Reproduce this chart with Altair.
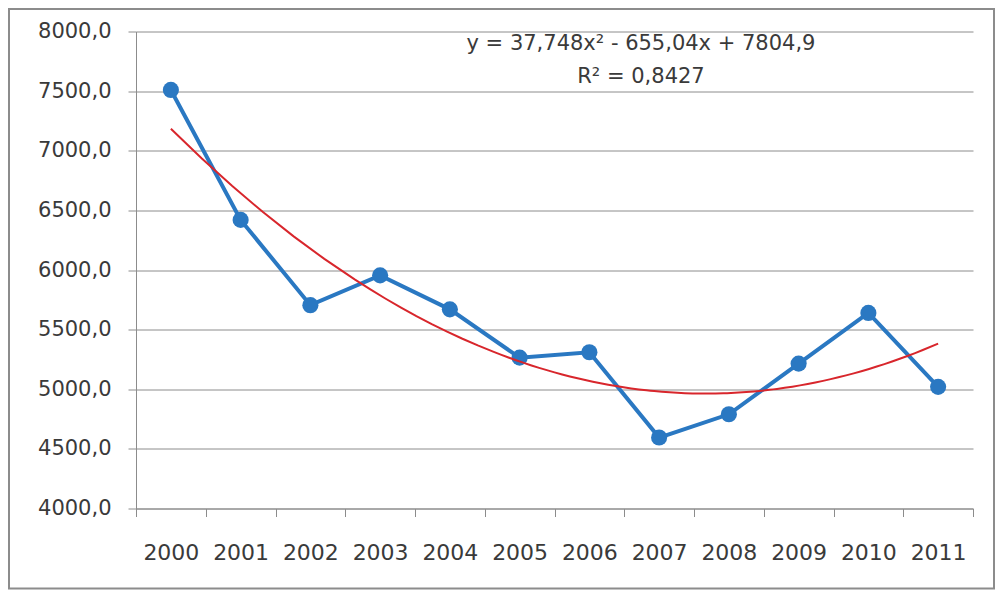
import altair as alt
import pandas as pd

# ---- data ----
years = ["2000", "2001", "2002", "2003", "2004", "2005",
         "2006", "2007", "2008", "2009", "2010", "2011"]
x_index = [1, 2, 3, 4, 5, 6, 7, 8, 9, 10, 11, 12]
values = [7510, 6420, 5705, 5955, 5670, 5265, 5310, 4595, 4790, 5215, 5640, 5020]
y_ticks = [4000, 4500, 5000, 5500, 6000, 6500, 7000, 7500, 8000]
x_ticks = [0.5, 1.5, 2.5, 3.5, 4.5, 5.5, 6.5, 7.5, 8.5, 9.5, 10.5, 11.5, 12.5]
eq_line1 = "y = 37,748x² - 655,04x + 7804,9"
eq_line2 = "R² = 0,8427"

df = pd.DataFrame({"x": x_index, "year": years, "value": values})

FONT = "DejaVu Sans"
GRAY = "#8c8c8c"
TEXT = "#3a3a3a"
BLUE = "#2a78c2"
RED = "#d8262c"

W, H = 837, 477
first_year = int(years[0])
last_x = x_index[-1]

x_axis = alt.Axis(
    values=x_ticks,
    labelExpr=f"datum.value < {last_x} ? '' + ({first_year} + round(datum.value - 0.5)) : ''",
    labelOffset=W / 12 / 2,
    grid=False,
    domainColor=GRAY,
    tickColor=GRAY,
    tickSize=8,
    labelPadding=26,
    labelFont=FONT,
    labelFontSize=22,
    labelColor=TEXT,
    labelOverlap=False,
    labelFlush=False,
    title=None,
)

y_axis = alt.Axis(
    values=y_ticks,
    labelExpr="replace(format(datum.value, '.1f'), '.', ',')",
    grid=True,
    gridColor=GRAY,
    gridWidth=1,
    domainColor=GRAY,
    tickColor=GRAY,
    tickSize=8,
    labelPadding=17,
    labelFont=FONT,
    labelFontSize=21,
    labelColor=TEXT,
    labelOverlap=False,
    labelFlush=False,
    title=None,
)

x_enc = alt.X("x:Q", scale=alt.Scale(domain=[0.5, 12.5], nice=False, zero=False), axis=x_axis)
y_enc = alt.Y("value:Q", scale=alt.Scale(domain=[4000, 8000], nice=False, zero=False), axis=y_axis)

base = alt.Chart(df)

line = base.mark_line(color=BLUE, strokeWidth=4).encode(x=x_enc, y=y_enc)
points = base.mark_circle(color=BLUE, size=260, opacity=1).encode(x="x:Q", y="value:Q")

trend = (
    base.transform_regression("x", "value", method="poly", order=2, extent=[1, 12])
    .mark_line(color=RED, strokeWidth=2)
    .encode(x="x:Q", y="value:Q")
)

label_df = pd.DataFrame({"l1": [eq_line1], "l2": [eq_line2]})
eq1 = alt.Chart(label_df).mark_text(
    font=FONT, fontSize=21, color=TEXT, align="center", baseline="middle"
).encode(text="l1:N", x=alt.value(505), y=alt.value(12))
eq2 = alt.Chart(label_df).mark_text(
    font=FONT, fontSize=21, color=TEXT, align="center", baseline="middle"
).encode(text="l2:N", x=alt.value(505), y=alt.value(45))

frame = alt.Chart(label_df).mark_rect(
    filled=False, stroke=GRAY, strokeWidth=2
).encode(x=alt.value(-127), x2=alt.value(858), y=alt.value(-22.5), y2=alt.value(557))

chart = (
    alt.layer(line, points, trend, eq1, eq2, frame)
    .properties(
        width=W,
        height=H,
        autosize=alt.AutoSizeParams(type="none"),
        padding={"left": 128, "top": 23.5, "right": 23, "bottom": 82},
        background="white",
    )
    .configure_view(stroke=None)
)

chart.save("out.html", embed_options={"renderer": "svg", "actions": False})
